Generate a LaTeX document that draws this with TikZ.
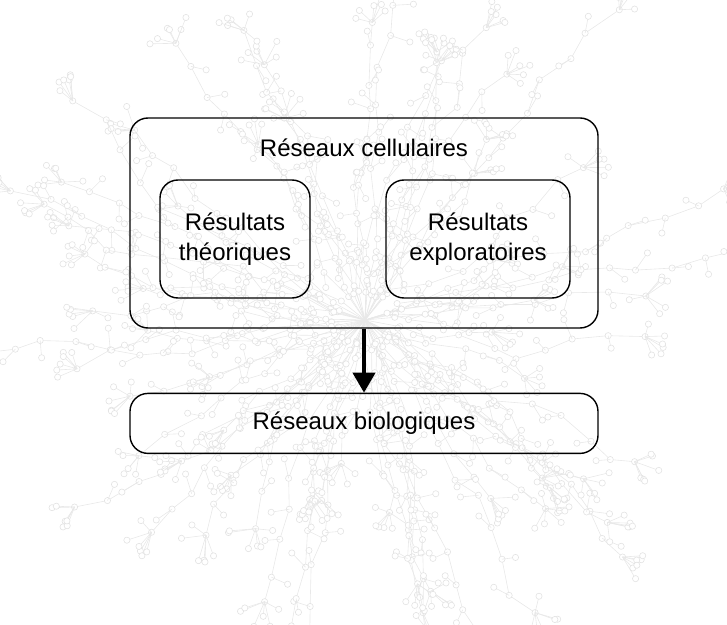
\documentclass[tikz,border=0pt]{standalone}
\usepackage{fontspec}
\setmainfont{Liberation Sans}
\usetikzlibrary{arrows.meta,positioning,calc}
\tikzset{
  box/.style={draw, rounded corners=9pt, line width=0.7pt, align=center},
  netedge/.style={draw=black!9, line width=0.3pt},
  netdot/.style={circle, draw=black!11, fill=white, line width=0.3pt, inner sep=1.1pt},
}

\begin{document}
\begin{tikzpicture}[x=0.5pt, y=-0.5pt, font=\fontsize{12}{15}\selectfont]
  \useasboundingbox (0,0) rectangle (727,625);

  % reseau en fond
  \begin{scope}
    \clip (0,0) rectangle (727,625);
    \pgfmathsetseed{11}
    \foreach \b in {1,...,70}{
      \pgfmathsetmacro{\ang}{rnd*360}
      \pgfmathtruncatemacro{\n}{5+rnd*8}
      \draw[netedge] (365,320) \foreach \k in {1,...,\n}{
        -- ++({\ang+rnd*40-20}:{22+rnd*20}) coordinate (c\k) node[netdot] {} };
      \foreach \k in {2,...,\n}{
        \draw[netedge] (c\k) -- ++({rnd*360}:{12+rnd*10}) node[netdot] {};
      }
      \foreach \s in {1,...,5}{
        \draw[netedge] (c\n) -- ++({\ang+rnd*120-60}:{14+rnd*14}) node[netdot] {};
      }
    }
  \end{scope}

  \node[box, minimum width=234pt, minimum height=105pt] (cell) at (364,223) {};
  \node (celltitle) at (364,148) {Réseaux cellulaires};
  \node[box, minimum width=75pt, minimum height=59pt] (theo) at (235,239) {Résultats\\théoriques};
  \node[box, minimum width=92pt, minimum height=59pt] (explo) at (478,239) {Résultats\\exploratoires};
  \node[box, minimum width=234pt, minimum height=30pt, below=32pt of cell] (bio) {Réseaux biologiques};

  \draw[line width=2pt, -{Triangle[length=10pt, width=11pt]}] (cell.south) -- (bio.north);
\end{tikzpicture}
\end{document}
